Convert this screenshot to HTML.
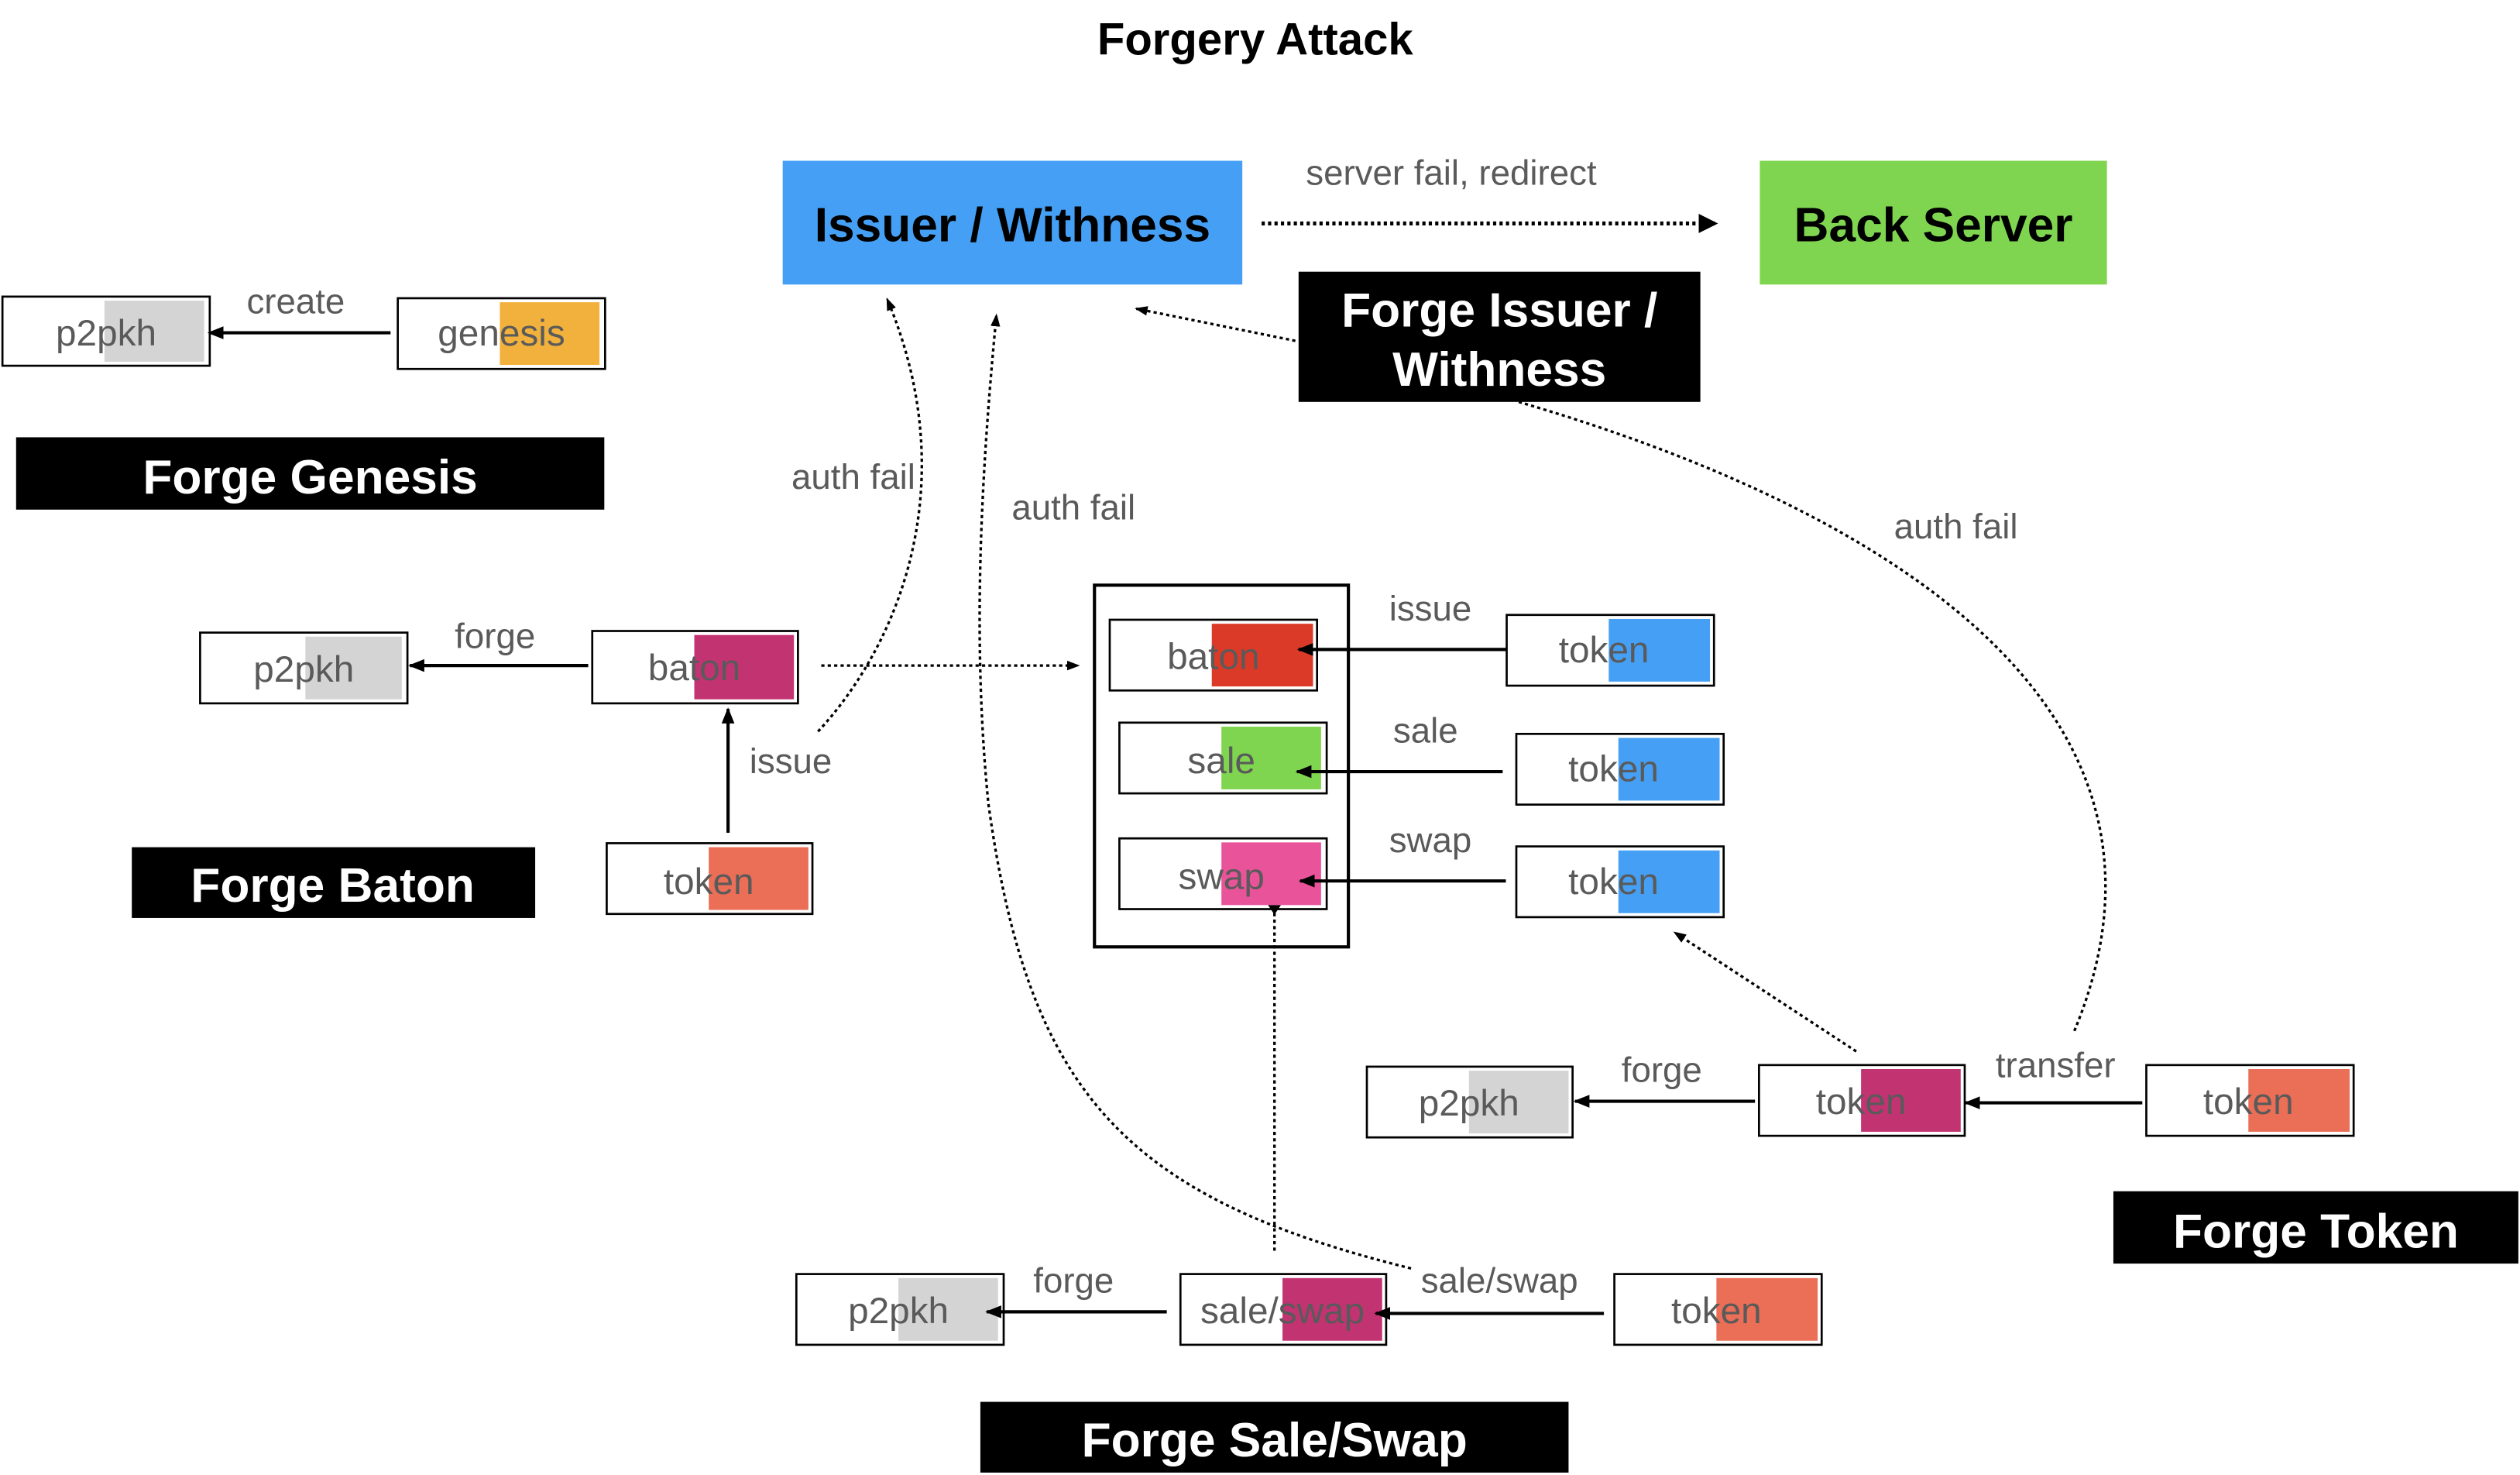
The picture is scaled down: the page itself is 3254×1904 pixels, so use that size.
<!DOCTYPE html>
<html><head><meta charset="utf-8"><style>
html,body{margin:0;padding:0;background:#fff;}
svg{display:block;}
text{font-family:"Liberation Sans",sans-serif;}
.n{font-size:23px;fill:#5a5a5a;text-anchor:middle;}
.l{font-size:22px;fill:#5a5a5a;text-anchor:middle;}
.b{font-size:30px;fill:#fff;font-weight:bold;text-anchor:middle;}
</style></head><body>
<svg width="3254" height="1904" viewBox="0 0 1568 917.5" xmlns="http://www.w3.org/2000/svg">
<defs>
<marker id="a" markerWidth="10" markerHeight="10" refX="9" refY="5" orient="auto" markerUnits="userSpaceOnUse"><path d="M0,1 L10,5 L0,9 z" fill="#000"/></marker>
<marker id="s" markerWidth="8" markerHeight="8" refX="7" refY="4" orient="auto" markerUnits="userSpaceOnUse"><path d="M0,1 L8,4 L0,7 z" fill="#000"/></marker>
<marker id="big" markerWidth="12" markerHeight="12" refX="11" refY="6" orient="auto" markerUnits="userSpaceOnUse"><path d="M0,0 L12,6 L0,12 z" fill="#000"/></marker>
</defs>
<text x="781" y="34" style="font-size:28px;font-weight:bold;text-anchor:middle;fill:#000">Forgery Attack</text>

<rect x="487" y="100" width="286" height="77" fill="#45A0F5"/>
<text x="630" y="150" style="font-size:30px;font-weight:bold;text-anchor:middle;fill:#000">Issuer / Withness</text>
<rect x="1095" y="100" width="216" height="77" fill="#80D550"/>
<text x="1203" y="150" style="font-size:30px;font-weight:bold;text-anchor:middle;fill:#000">Back Server</text>
<rect x="808" y="169" width="250" height="81" fill="#000"/>
<text x="933" y="203" class="b">Forge Issuer /</text>
<text x="933" y="240" class="b">Withness</text>

<rect x="10" y="272" width="366" height="45" fill="#000"/><text x="193" y="307" class="b">Forge Genesis</text>
<rect x="82" y="527" width="251" height="44" fill="#000"/><text x="207" y="561" class="b">Forge Baton</text>
<rect x="1315" y="741" width="252" height="45" fill="#000"/><text x="1441" y="776" class="b">Forge Token</text>
<rect x="610" y="872" width="366" height="44" fill="#000"/><text x="793" y="906" class="b">Forge Sale/Swap</text>

<rect x="681" y="364" width="158" height="225" fill="none" stroke="#000" stroke-width="2"/>

<g stroke="#000" stroke-width="1.3">
<rect x="1.5" y="184.5" width="129" height="43" fill="#fff"/><rect x="65" y="187" width="62" height="38" fill="#d4d4d4" stroke="none"/>
<rect x="247.5" y="185.5" width="129" height="44" fill="#fff"/><rect x="311" y="188" width="62" height="39" fill="#F2B13C" stroke="none"/>
<rect x="124.5" y="393.5" width="129" height="44" fill="#fff"/><rect x="190" y="396" width="60" height="39" fill="#d4d4d4" stroke="none"/>
<rect x="368.5" y="392.5" width="128" height="45" fill="#fff"/><rect x="432" y="395" width="62" height="40" fill="#C23372" stroke="none"/>
<rect x="377.5" y="524.5" width="128" height="44" fill="#fff"/><rect x="441" y="527" width="62" height="39" fill="#EB6E56" stroke="none"/>
<rect x="690.5" y="385.5" width="129" height="44" fill="#fff"/><rect x="754" y="388" width="63" height="39" fill="#DA3A27" stroke="none"/>
<rect x="696.5" y="449.5" width="129" height="44" fill="#fff"/><rect x="760" y="452" width="62" height="39" fill="#80D550" stroke="none"/>
<rect x="696.5" y="521.5" width="129" height="44" fill="#fff"/><rect x="760" y="524" width="62" height="39" fill="#E9539A" stroke="none"/>
<rect x="937.5" y="382.5" width="129" height="44" fill="#fff"/><rect x="1001" y="385" width="63" height="39" fill="#45A0F5" stroke="none"/>
<rect x="943.5" y="456.5" width="129" height="44" fill="#fff"/><rect x="1007" y="459" width="63" height="39" fill="#45A0F5" stroke="none"/>
<rect x="943.5" y="526.5" width="129" height="44" fill="#fff"/><rect x="1007" y="529" width="63" height="39" fill="#45A0F5" stroke="none"/>
<rect x="850.5" y="663.5" width="128" height="44" fill="#fff"/><rect x="914" y="666" width="62" height="39" fill="#d4d4d4" stroke="none"/>
<rect x="1094.5" y="662.5" width="128" height="44" fill="#fff"/><rect x="1158" y="665" width="62" height="39" fill="#C23372" stroke="none"/>
<rect x="1335.5" y="662.5" width="129" height="44" fill="#fff"/><rect x="1399" y="665" width="63" height="39" fill="#EB6E56" stroke="none"/>
<rect x="495.5" y="792.5" width="129" height="44" fill="#fff"/><rect x="559" y="795" width="62" height="39" fill="#d4d4d4" stroke="none"/>
<rect x="734.5" y="792.5" width="128" height="44" fill="#fff"/><rect x="798" y="795" width="62" height="39" fill="#C23372" stroke="none"/>
<rect x="1004.5" y="792.5" width="129" height="44" fill="#fff"/><rect x="1068" y="795" width="63" height="39" fill="#EB6E56" stroke="none"/>
</g>

<g>
<text x="66" y="215" class="n">p2pkh</text>
<text x="312" y="215" class="n">genesis</text>
<text x="189" y="424" class="n">p2pkh</text>
<text x="432" y="423" class="n">baton</text>
<text x="441" y="556" class="n">token</text>
<text x="755" y="416" class="n">baton</text>
<text x="760" y="481" class="n">sale</text>
<text x="760" y="553" class="n">swap</text>
<text x="998" y="412" class="n">token</text>
<text x="1004" y="486" class="n">token</text>
<text x="1004" y="556" class="n">token</text>
<text x="914" y="694" class="n">p2pkh</text>
<text x="1158" y="693" class="n">token</text>
<text x="1399" y="693" class="n">token</text>
<text x="559" y="823" class="n">p2pkh</text>
<text x="798" y="823" class="n">sale/swap</text>
<text x="1068" y="823" class="n">token</text>
</g>

<g>
<text x="184" y="195" class="l">create</text>
<text x="308" y="403" class="l">forge</text>
<text x="492" y="481" class="l">issue</text>
<text x="531" y="304" class="l">auth fail</text>
<text x="668" y="323" class="l">auth fail</text>
<text x="903" y="115" class="l">server fail, redirect</text>
<text x="890" y="386" class="l">issue</text>
<text x="887" y="462" class="l">sale</text>
<text x="890" y="530" class="l">swap</text>
<text x="1217" y="335" class="l">auth fail</text>
<text x="1034" y="673" class="l">forge</text>
<text x="1279" y="670" class="l">transfer</text>
<text x="668" y="804" class="l">forge</text>
<text x="933" y="804" class="l">sale/swap</text>
</g>

<g stroke="#000" stroke-width="2" fill="none" marker-end="url(#a)">
<line x1="243" y1="207" x2="130" y2="207"/>
<line x1="366" y1="414" x2="255" y2="414"/>
<line x1="453" y1="518" x2="453" y2="441"/>
<line x1="937" y1="404" x2="808" y2="404"/>
<line x1="935" y1="480" x2="807" y2="480"/>
<line x1="937" y1="548" x2="809" y2="548"/>
<line x1="1092" y1="685" x2="980" y2="685"/>
<line x1="1333" y1="686" x2="1223" y2="686"/>
<line x1="998" y1="817" x2="856" y2="817"/>
<line x1="726" y1="816" x2="614" y2="816"/>
</g>

<g stroke="#000" fill="none" stroke-dasharray="2,2">
<line x1="785" y1="139" x2="1068" y2="139" stroke-width="2.5" marker-end="url(#big)"/>
<line x1="806" y1="212" x2="707" y2="192" stroke-width="1.6" marker-end="url(#s)"/>
<line x1="511" y1="414" x2="671" y2="414" stroke-width="1.6" marker-end="url(#s)"/>
<path d="M509,455 C560,400 600,300 552,186" stroke-width="1.6" marker-end="url(#s)"/>
<path d="M878,789 C700,745 640,680 615,500 C605,400 610,300 620,196" stroke-width="1.6" marker-end="url(#s)"/>
<path d="M945,250 C1150,310 1380,430 1290,643" stroke-width="1.6"/>
<line x1="1155" y1="654" x2="1042" y2="580" stroke-width="1.6" marker-end="url(#s)"/>
<line x1="793" y1="778" x2="793" y2="568" stroke-width="1.6"/>
</g>
<path d="M789,563 L797,563 L793,569 z" fill="#000"/>
</svg>
</body></html>
